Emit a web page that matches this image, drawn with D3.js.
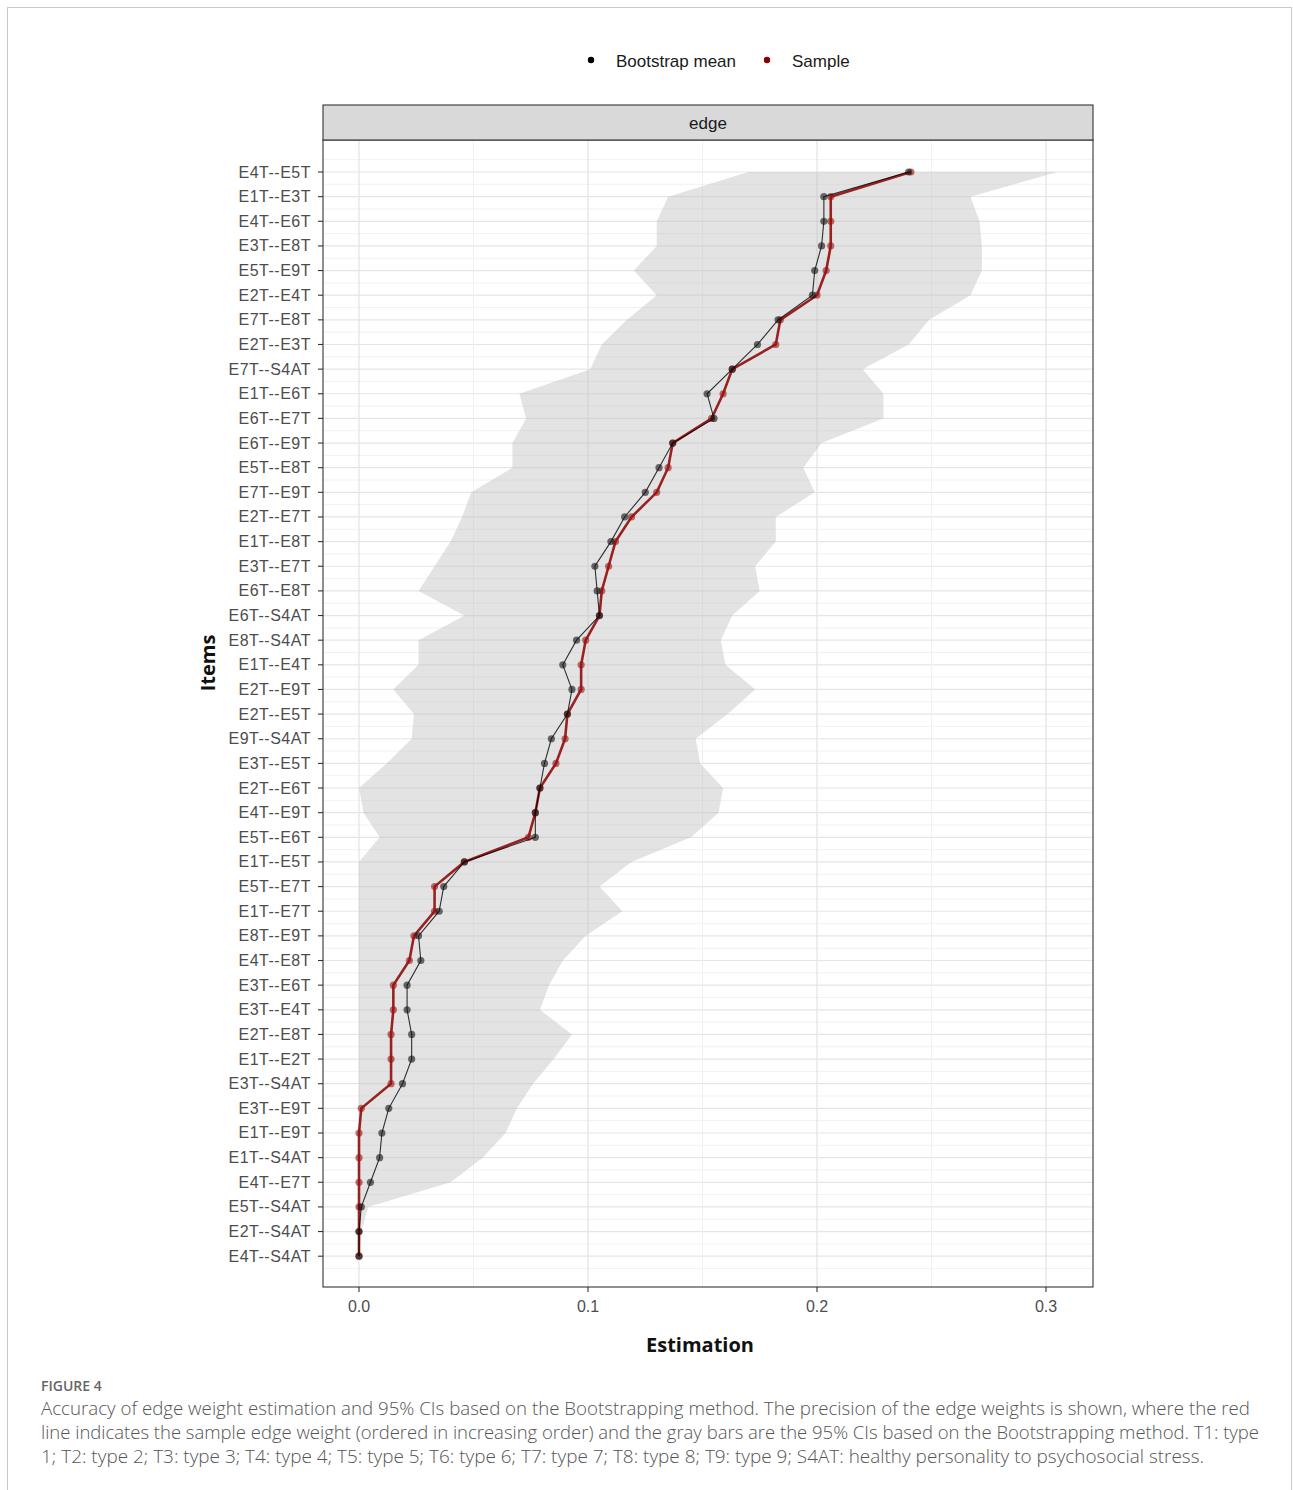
<!DOCTYPE html>
<html lang = 'en'>
    <head>
        <meta charset = 'UTF-8'>
        <title>Edge weight accuracy</title>
        <script src="https://d3js.org/d3.v7.min.js"></script>
        <style>
            body {
                margin: 0;
                background-color: white;
            }
            .ylab, .xlab {
                font-family: 'Liberation Sans', Arial, sans-serif;
                font-size: 16px;
                fill: #4d4d4d;
            }
            .ylab {
                letter-spacing: 0.5px;
            }
            .axis_title {
                font-family: 'Open Sans', sans-serif;
                font-weight: 700;
                font-size: 20px;
                fill: #111;
            }
            .legend_text, .strip_text {
                font-family: 'Liberation Sans', Arial, sans-serif;
                font-size: 17px;
                fill: #1a1a1a;
            }
            .caption {
                font-family: 'Open Sans', sans-serif;
                font-weight: 300;
                font-size: 18px;
                fill: #555;
            }
        </style>
    </head>
    <body>
        <svg id = 'svg_chart' width = '1293' height = '1490'></svg>
        <script>
            // edges, ordered by sample weight (top to bottom)
            let items = ['E4T--E5T', 'E1T--E3T', 'E4T--E6T', 'E3T--E8T', 'E5T--E9T', 'E2T--E4T', 'E7T--E8T',
                'E2T--E3T', 'E7T--S4AT', 'E1T--E6T', 'E6T--E7T', 'E6T--E9T', 'E5T--E8T', 'E7T--E9T', 'E2T--E7T',
                'E1T--E8T', 'E3T--E7T', 'E6T--E8T', 'E6T--S4AT', 'E8T--S4AT', 'E1T--E4T', 'E2T--E9T', 'E2T--E5T',
                'E9T--S4AT', 'E3T--E5T', 'E2T--E6T', 'E4T--E9T', 'E5T--E6T', 'E1T--E5T', 'E5T--E7T', 'E1T--E7T',
                'E8T--E9T', 'E4T--E8T', 'E3T--E6T', 'E3T--E4T', 'E2T--E8T', 'E1T--E2T', 'E3T--S4AT', 'E3T--E9T',
                'E1T--E9T', 'E1T--S4AT', 'E4T--E7T', 'E5T--S4AT', 'E2T--S4AT', 'E4T--S4AT']

            let sample = [0.241, 0.206, 0.206, 0.206, 0.204, 0.200, 0.184, 0.182, 0.163, 0.159, 0.154, 0.137,
                0.135, 0.130, 0.119, 0.112, 0.109, 0.106, 0.105, 0.099, 0.097, 0.097, 0.091, 0.090, 0.086, 0.079,
                0.077, 0.074, 0.046, 0.033, 0.033, 0.024, 0.022, 0.015, 0.015, 0.014, 0.014, 0.014, 0.001, 0, 0,
                0, 0, 0, 0]

            let bootMean = [0.240, 0.203, 0.203, 0.202, 0.199, 0.198, 0.183, 0.174, 0.163, 0.152, 0.155, 0.137,
                0.131, 0.125, 0.116, 0.110, 0.103, 0.104, 0.105, 0.095, 0.089, 0.093, 0.091, 0.084, 0.081, 0.079,
                0.077, 0.077, 0.046, 0.037, 0.035, 0.026, 0.027, 0.021, 0.021, 0.023, 0.023, 0.019, 0.013, 0.010,
                0.009, 0.005, 0.001, 0, 0]

            let ciLower = [0.170, 0.135, 0.130, 0.130, 0.120, 0.130, 0.117, 0.106, 0.101, 0.070, 0.073, 0.067,
                0.067, 0.049, 0.045, 0.040, 0.033, 0.026, 0.046, 0.026, 0.026, 0.015, 0.024, 0.023, 0.012, 0.000,
                0.002, 0.009, 0, 0, 0, 0, 0, 0, 0, 0, 0, 0, 0, 0, 0, 0, 0, 0, 0]

            let ciUpper = [0.305, 0.267, 0.271, 0.272, 0.272, 0.267, 0.249, 0.240, 0.220, 0.229, 0.229, 0.202,
                0.194, 0.199, 0.182, 0.182, 0.173, 0.175, 0.163, 0.158, 0.160, 0.173, 0.161, 0.147, 0.149, 0.159,
                0.157, 0.145, 0.119, 0.105, 0.115, 0.099, 0.089, 0.083, 0.079, 0.093, 0.085, 0.076, 0.069, 0.064,
                0.054, 0.040, 0.004, 0.001, 0]

            let xTicks = [0, 0.1, 0.2, 0.3]
            let xMinor = [0.05, 0.15, 0.25]

            let svg = d3.select('#svg_chart')
            let panel = {left: 323, right: 1093, top: 140, bottom: 1287}

            // outer frame of the figure
            svg.append('rect')
                .attr('x', 7.5).attr('y', 7.5)
                .attr('width', 1284).attr('height', 1500)
                .attr('fill', 'none')
                .attr('stroke', '#c8c8c8')

            let x = d3.scaleLinear()
                .domain([0, 0.3])
                .range([359, 1046])
            let y = d3.scaleLinear()
                .domain([0, items.length - 1])
                .range([172, 1256.2])

            let rows = items.map((d, i) => ({
                item: d, i: i, sample: sample[i], mean: bootMean[i], lo: ciLower[i], hi: ciUpper[i]
            }))

            // panel background
            svg.append('rect')
                .attr('x', panel.left).attr('y', panel.top)
                .attr('width', panel.right - panel.left)
                .attr('height', panel.bottom - panel.top)
                .attr('fill', 'white')

            let grid = svg.append('g')
            let halfRows = d3.range(-0.5, items.length, 1)
            grid.selectAll('.hminor').data(halfRows).enter().append('line')
                .attr('x1', panel.left).attr('x2', panel.right)
                .attr('y1', d => y(d)).attr('y2', d => y(d))
                .attr('stroke', '#ededed').attr('stroke-width', 0.8)
            grid.selectAll('.hmajor').data(rows).enter().append('line')
                .attr('x1', panel.left).attr('x2', panel.right)
                .attr('y1', d => y(d.i)).attr('y2', d => y(d.i))
                .attr('stroke', '#e6e6e6').attr('stroke-width', 1.2)
            grid.selectAll('.vminor').data(xMinor).enter().append('line')
                .attr('y1', panel.top).attr('y2', panel.bottom)
                .attr('x1', d => x(d)).attr('x2', d => x(d))
                .attr('stroke', '#ededed').attr('stroke-width', 0.8)
            grid.selectAll('.vmajor').data(xTicks).enter().append('line')
                .attr('y1', panel.top).attr('y2', panel.bottom)
                .attr('x1', d => x(d)).attr('x2', d => x(d))
                .attr('stroke', '#e3e3e3').attr('stroke-width', 1.2)

            // 95% CI ribbon
            let ribbon = d3.area()
                .y(d => y(d.i))
                .x0(d => x(d.lo))
                .x1(d => x(d.hi))
            svg.append('path')
                .datum(rows)
                .attr('d', ribbon)
                .attr('fill', '#bdbdbd')
                .attr('fill-opacity', 0.42)

            // sample line (red) then bootstrap mean (black)
            let lineSample = d3.line().x(d => x(d.sample)).y(d => y(d.i))
            let lineMean = d3.line().x(d => x(d.mean)).y(d => y(d.i))

            svg.append('path')
                .datum(rows)
                .attr('d', lineSample)
                .attr('fill', 'none')
                .attr('stroke', '#8b0000')
                .attr('stroke-opacity', 0.85)
                .attr('stroke-width', 2.6)
            svg.selectAll('.pt_sample').data(rows).enter().append('circle')
                .attr('cx', d => x(d.sample)).attr('cy', d => y(d.i))
                .attr('r', 3.6)
                .attr('fill', '#9b1010')
                .attr('fill-opacity', 0.6)

            svg.append('path')
                .datum(rows)
                .attr('d', lineMean)
                .attr('fill', 'none')
                .attr('stroke', '#000')
                .attr('stroke-opacity', 0.8)
                .attr('stroke-width', 1.1)
            svg.selectAll('.pt_mean').data(rows).enter().append('circle')
                .attr('cx', d => x(d.mean)).attr('cy', d => y(d.i))
                .attr('r', 3.6)
                .attr('fill', '#111')
                .attr('fill-opacity', 0.6)

            // panel border
            svg.append('rect')
                .attr('x', panel.left).attr('y', panel.top)
                .attr('width', panel.right - panel.left)
                .attr('height', panel.bottom - panel.top)
                .attr('fill', 'none')
                .attr('stroke', '#333')
                .attr('stroke-width', 1.1)

            // strip
            svg.append('rect')
                .attr('x', panel.left).attr('y', 105)
                .attr('width', panel.right - panel.left)
                .attr('height', panel.top - 105)
                .attr('fill', '#d9d9d9')
                .attr('stroke', '#333')
                .attr('stroke-width', 1.1)
            svg.append('text')
                .attr('class', 'strip_text')
                .attr('x', (panel.left + panel.right) / 2)
                .attr('y', 129)
                .attr('text-anchor', 'middle')
                .text('edge')

            // y axis
            let yAxis = svg.append('g')
            yAxis.selectAll('.ytick').data(rows).enter().append('line')
                .attr('x1', panel.left - 5).attr('x2', panel.left)
                .attr('y1', d => y(d.i)).attr('y2', d => y(d.i))
                .attr('stroke', '#333').attr('stroke-width', 1.1)
            yAxis.selectAll('.ylab').data(rows).enter().append('text')
                .attr('class', 'ylab')
                .attr('x', panel.left - 12)
                .attr('y', d => y(d.i) + 5.5)
                .attr('text-anchor', 'end')
                .text(d => d.item)

            // x axis
            let xAxis = svg.append('g')
            xAxis.selectAll('.xtick').data(xTicks).enter().append('line')
                .attr('x1', d => x(d)).attr('x2', d => x(d))
                .attr('y1', panel.bottom).attr('y2', panel.bottom + 5)
                .attr('stroke', '#333').attr('stroke-width', 1.1)
            xAxis.selectAll('.xlab').data(xTicks).enter().append('text')
                .attr('class', 'xlab')
                .attr('x', d => x(d))
                .attr('y', 1312)
                .attr('text-anchor', 'middle')
                .text(d => d3.format('.1f')(d))

            svg.append('text')
                .attr('class', 'axis_title')
                .attr('x', 700).attr('y', 1352)
                .attr('text-anchor', 'middle')
                .text('Estimation')
            svg.append('text')
                .attr('class', 'axis_title')
                .attr('transform', 'translate(215, 663) rotate(-90)')
                .attr('text-anchor', 'middle')
                .text('Items')

            // legend
            let legend = [
                {label: 'Bootstrap mean', color: '#000', cx: 591},
                {label: 'Sample', color: '#8b0000', cx: 767}
            ]
            let lg = svg.selectAll('.legend').data(legend).enter().append('g')
            lg.append('circle')
                .attr('cx', d => d.cx).attr('cy', 60)
                .attr('r', 3.2)
                .attr('fill', d => d.color)
            lg.append('text')
                .attr('class', 'legend_text')
                .attr('x', d => d.cx + 25).attr('y', 67)
                .text(d => d.label)

            // caption
            svg.append('text')
                .attr('class', 'caption')
                .attr('x', 41).attr('y', 1391)
                .style('font-size', '14px')
                .style('font-weight', 600)
                .style('fill', '#666')
                .text('FIGURE 4')

            let captionLines = [
                'Accuracy of edge weight estimation and 95% CIs based on the Bootstrapping method. The precision of the edge weights is shown, where the red',
                'line indicates the sample edge weight (ordered in increasing order) and the gray bars are the 95% CIs based on the Bootstrapping method. T1: type',
                '1; T2: type 2; T3: type 3; T4: type 4; T5: type 5; T6: type 6; T7: type 7; T8: type 8; T9: type 9; S4AT: healthy personality to psychosocial stress.'
            ]
            let captionWidths = [1209, 1218, 1163]
            svg.selectAll('.capline').data(captionLines).enter().append('text')
                .attr('class', 'caption')
                .attr('x', 41)
                .attr('y', (d, i) => 1415 + i * 24)
                .attr('textLength', (d, i) => captionWidths[i])
                .attr('lengthAdjust', 'spacingAndGlyphs')
                .text(d => d)
        </script>
    </body>
</html>
